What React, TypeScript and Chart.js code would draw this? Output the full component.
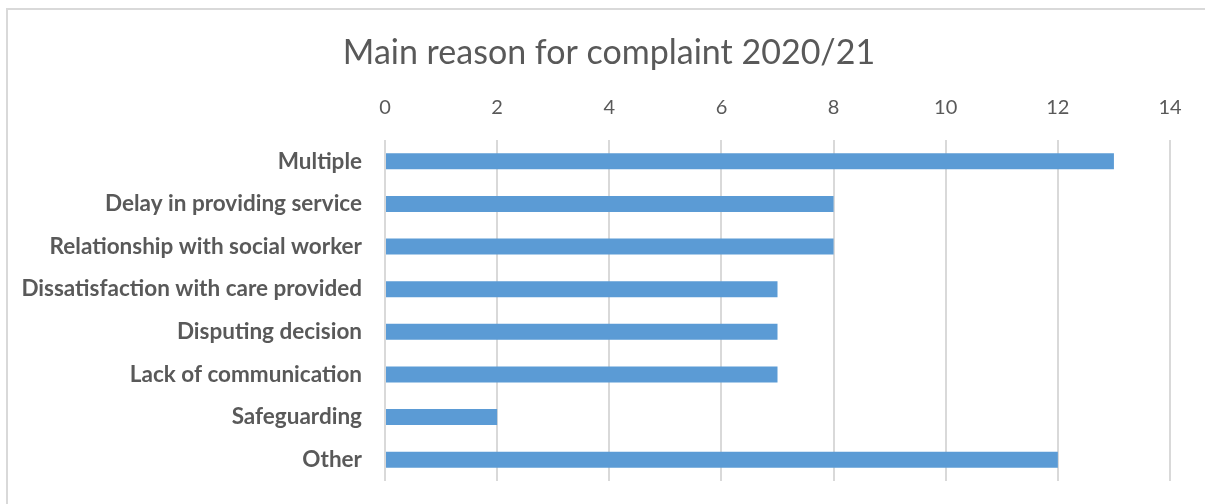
import React, { useEffect, useRef } from "react";
import { Chart, registerables } from "chart.js";

Chart.register(...registerables);

const categories = [
  "Multiple",
  "Delay in providing service",
  "Relationship with social worker",
  "Dissatisfaction with care provided",
  "Disputing decision",
  "Lack of communication",
  "Safeguarding",
  "Other",
];
const values = [13, 8, 8, 7, 7, 7, 2, 12];
const titleText = "Main reason for complaint 2020/21";
const axisMin = 0;
const axisMax = 14;
const axisStep = 2;

const FONT = "Lato, 'Noto Sans', sans-serif";
const GREY = "#595959";

const titlePlugin = {
  id: "customTitle",
  afterDraw(chart: any) {
    const ctx = chart.ctx;
    ctx.save();
    ctx.font = `34px ${FONT}`;
    ctx.fillStyle = GREY;
    ctx.textAlign = "center";
    ctx.textBaseline = "middle";
    ctx.fillText(titleText, 609, 53);
    ctx.restore();
  },
};

export default function App() {
  const ref = useRef<HTMLCanvasElement>(null);
  useEffect(() => {
    const chart = new Chart(ref.current!, {
      type: "bar",
      data: {
        labels: categories,
        datasets: [
          {
            data: values,
            backgroundColor: "#5B9BD5",
            barPercentage: 0.375,
            categoryPercentage: 1,
          },
        ],
      },
      plugins: [titlePlugin],
      options: {
        indexAxis: "y",
        animation: false,
        responsive: false,
        layout: { padding: { left: 0, right: 35, top: 0, bottom: 23 } },
        plugins: { legend: { display: false }, title: { display: false }, tooltip: { enabled: false } },
        scales: {
          x: {
            position: "top",
            min: axisMin,
            max: axisMax,
            ticks: {
              stepSize: axisStep,
              color: GREY,
              font: { family: FONT, size: 20 },
              padding: 20,
            },
            grid: { color: "#D9D9D9", lineWidth: 2, drawTicks: false },
            border: { display: false },
            afterFit: (s: any) => {
              s.height = 140;
              s.paddingLeft = 0;
              s.paddingRight = 0;
            },
          },
          y: {
            ticks: {
              color: GREY,
              font: { family: FONT, size: 22.5, weight: "bold" },
              padding: 23,
            },
            grid: { display: false, drawTicks: false },
            border: { display: false },
            afterFit: (s: any) => {
              s.width = 385;
              s.paddingTop = 0;
              s.paddingBottom = 0;
            },
          },
        },
      },
    } as any);
    return () => chart.destroy();
  }, []);
  return (
    <div style={{ position: "fixed", left: 0, top: 0, width: 1205, height: 504, overflow: "hidden", background: "#fff" }}>
      <div
        style={{
          position: "absolute",
          left: 6,
          top: 8,
          width: 1300,
          height: 600,
          border: "2px solid #D9D9D9",
        }}
      />
      <canvas ref={ref} width={1205} height={504} style={{ position: "absolute", left: 0, top: 0 }} />
    </div>
  );
}
